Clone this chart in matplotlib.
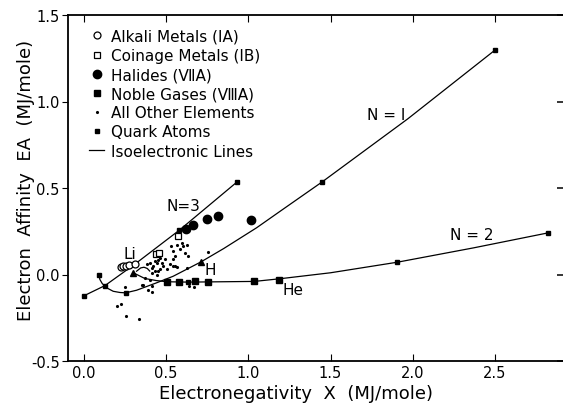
import matplotlib
matplotlib.use("Agg")
import matplotlib.pyplot as plt

# --- data (MJ/mole) ---
alkali_x = [0.225, 0.24, 0.255, 0.275, 0.31]
alkali_y = [0.046, 0.047, 0.048, 0.053, 0.060]

coinage_x = [0.44, 0.455, 0.57]
coinage_y = [0.119, 0.126, 0.223]

halide_x = [0.618, 0.665, 0.746, 0.813, 1.014]
halide_y = [0.264, 0.289, 0.318, 0.341, 0.314]

noble_x = [0.507, 0.58, 0.675, 0.756, 1.036, 1.188]
noble_y = [-0.042, -0.042, -0.039, -0.042, -0.040, -0.029]

other_x = [0.529, 0.543, 0.564, 0.594, 0.625, 0.584, 0.63, 0.543, 0.564, 0.539,
           0.756, 0.412, 0.391, 0.361, 0.199, 0.223, 0.255, 0.335, 0.671, 0.249,
           0.381, 0.401, 0.412, 0.422, 0.432, 0.442, 0.452, 0.462, 0.472, 0.482,
           0.412, 0.432, 0.452, 0.462, 0.442, 0.371, 0.401, 0.351, 0.493, 0.503,
           0.553, 0.523, 0.553, 0.625, 0.614, 0.604, 0.639, 0.412]
other_y = [0.164, 0.135, 0.173, 0.183, 0.173, 0.145, 0.106, 0.052, 0.044, 0.087,
           0.129, -0.102, -0.087, -0.058, -0.183, -0.170, -0.241, -0.256, -0.071, -0.071,
           0.058, 0.068, 0.039, 0.052, 0.077, 0.064, 0.083, 0.096, 0.068, 0.048,
           0.010, 0.019, 0.019, 0.033, 0.000, -0.019, -0.029, -0.058, 0.087, 0.029,
           0.106, 0.058, 0.048, 0.039, 0.125, 0.164, -0.064, -0.064]

quark_x = [0.0, 0.091, 0.128, 0.253, 0.58, 0.93, 1.45, 2.5, 0.634, 1.906, 2.825]
quark_y = [-0.123, 0.0, -0.064, -0.106, 0.256, 0.534, 0.536, 1.297, -0.044, 0.071, 0.241]

tri_x = [0.30, 0.712]
tri_y = [0.010, 0.073]

# isoelectronic lines
n1_x = [0.091, 0.097, 0.111, 0.138, 0.178, 0.219, 0.253, 0.32, 0.442, 0.543,
        0.712, 0.85, 1.05, 1.2, 1.45, 1.97, 2.5]
n1_y = [0.0, -0.029, -0.052, -0.077, -0.097, -0.104, -0.106, -0.091, -0.048, -0.010,
        0.073, 0.15, 0.27, 0.37, 0.536, 0.90, 1.297]

n2_x = [0.30, 0.37, 0.44, 0.507, 0.634, 1.036, 1.188, 1.5, 1.906, 2.37, 2.825]
n2_y = [0.010, -0.023, -0.035, -0.042, -0.044, -0.040, -0.025, 0.010, 0.071, 0.154, 0.241]

n3_x = [0.0, 0.128, 0.31, 0.58, 0.93]
n3_y = [-0.123, -0.064, 0.06, 0.256, 0.534]

arc_x = [0.32, 0.345, 0.365, 0.385, 0.40]
arc_y = [0.019, 0.038, 0.042, 0.035, 0.020]

plt.rcParams["font.family"] = ["DejaVu Sans"]

fig = plt.figure(figsize=(5.63, 4.06), dpi=100)
ax = fig.add_axes([68 / 563, 44 / 406, 497 / 563, 346 / 406])

lw = 0.9
iso, = ax.plot(n1_x, n1_y, color="black", lw=lw)
ax.plot(n2_x, n2_y, color="black", lw=lw)
ax.plot(n3_x, n3_y, color="black", lw=lw)
ax.plot(arc_x, arc_y, color="black", lw=lw)

h_alk, = ax.plot(alkali_x, alkali_y, "o", ls="none", mfc="white", mec="black", ms=5, mew=0.9)
h_coin, = ax.plot(coinage_x, coinage_y, "s", ls="none", mfc="white", mec="black", ms=5, mew=0.9)
h_hal, = ax.plot(halide_x, halide_y, "o", ls="none", color="black", ms=6)
h_nob, = ax.plot(noble_x, noble_y, "s", ls="none", color="black", ms=5)
h_oth, = ax.plot(other_x, other_y, ".", ls="none", color="black", ms=2.5)
h_qk, = ax.plot(quark_x, quark_y, "s", ls="none", color="black", ms=3)
ax.plot(tri_x, tri_y, "^", ls="none", color="black", ms=4)

ax.text(0.608, 0.40, "N=3", fontsize=11, ha="center", va="center")
ax.text(1.837, 0.925, "N = I", fontsize=11, ha="center", va="center")
ax.text(2.358, 0.231, "N = 2", fontsize=11, ha="center", va="center")
ax.text(0.28, 0.121, "Li", fontsize=11, ha="center", va="center")
ax.text(0.771, 0.029, "H", fontsize=11, ha="center", va="center")
ax.text(1.27, -0.087, "He", fontsize=11, ha="center", va="center")

ax.legend([h_alk, h_coin, h_hal, h_nob, h_oth, h_qk, iso],
          ["Alkali Metals (IA)", "Coinage Metals (IB)", "Halides (ⅦA)",
           "Noble Gases (ⅧA)", "All Other Elements", "Quark Atoms",
           "Isoelectronic Lines"],
          loc="upper left", bbox_to_anchor=(0.042, 0.96), frameon=False,
          fontsize=11, handlelength=1.0, handletextpad=0.45,
          labelspacing=0.27, borderpad=0, borderaxespad=0)

ax.set_xlim(-0.097, 2.926)
ax.set_ylim(-0.5, 1.5)
ax.set_xticks([0.0, 0.5, 1.0, 1.5, 2.0, 2.5])
ax.set_yticks([-0.5, 0.0, 0.5, 1.0, 1.5])
ax.set_xticklabels(["0.0", "0.5", "1.0", "1.5", "2.0", "2.5"])
ax.set_yticklabels(["-0.5", "0.0", "0.5", "1.0", "1.5"])
ax.tick_params(axis="x", direction="in", top=True, length=5, labelsize=10.5, pad=3)
ax.tick_params(axis="y", direction="out", length=4, labelsize=10.5, pad=2)
sec = ax.secondary_yaxis("right")
sec.set_yticks([-0.5, 0.0, 0.5, 1.0, 1.5])
sec.tick_params(direction="in", length=5.5, width=1.1, labelright=False)
sec.spines["right"].set_visible(False)
ax.spines["right"].set_visible(False)
for s in ax.spines.values():
    s.set_linewidth(1.3)

ax.set_xlabel("Electronegativity  X  (MJ/mole)", fontsize=13)
ax.set_ylabel("Electron  Affinity  EA  (MJ/mole)", fontsize=13)
ax.xaxis.set_label_coords(0.458, -0.066)
ax.yaxis.set_label_coords(-0.066, 0.525)

fig.savefig("out.png", dpi=100)
